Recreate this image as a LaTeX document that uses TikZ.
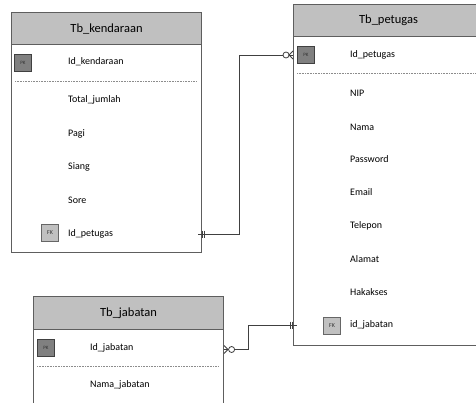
\documentclass[tikz,border=0pt]{standalone}
\usepackage{fontspec}
\setmainfont{Carlito}
\definecolor{edgegray}{HTML}{5E5E5E}
\definecolor{headgray}{HTML}{C0C0C0}
\definecolor{pkgray}{HTML}{808080}
\begin{document}
\begin{tikzpicture}[x=1pt,y=-1pt,
  tblbox/.style={draw=edgegray, line width=1.1pt, fill=white, minimum width=190pt, anchor=north west, inner sep=0pt},
  tblhead/.style={draw=edgegray, line width=1.1pt, fill=headgray, minimum width=190pt, minimum height=32pt, anchor=north west, inner sep=0pt, font=\fontsize{12.5}{14}\selectfont},
  field/.style={anchor=west, inner sep=0pt, font=\fontsize{10}{12}\selectfont},
  pkbox/.style={draw=black!75, line width=0.7pt, fill=pkgray, minimum size=17pt, inner sep=0pt, text=black!80, font=\fontsize{5}{6}\selectfont},
  fkbox/.style={draw=black!60, line width=0.7pt, fill=headgray, minimum size=17pt, inner sep=0pt, text=black!80, font=\fontsize{6}{7}\selectfont},
  sep/.style={draw=black!45, line width=0.6pt, dash pattern=on 0.8pt off 0.8pt},
  rel/.style={draw=black!75, line width=0.9pt},
  mark0/.style={draw=black!75, line width=0.8pt, fill=white},
]
\useasboundingbox (0,0) rectangle (476,402);
\clip (0,0) rectangle (476,402);
\fill[white] (0,0) rectangle (476,402);

% ---------- Tb_kendaraan ----------
\node[tblbox, minimum height=240pt] (K) at (11,12) {};
\node[tblhead] (Kh) at (11,12) {Tb\_kendaraan};
\node[pkbox] (kpk) at (23,63) {PK};
\node[field] (kid) at (68,62) {Id\_kendaraan};
\draw[sep] (15,81) -- (197,81);
\node[field] (ktot) at (68,100) {Total\_jumlah};
\node[field] (kpagi) at (68,134) {Pagi};
\node[field] (ksiang) at (68,167) {Siang};
\node[field] (ksore) at (68,200) {Sore};
\node[fkbox] (kfk) at (50,233) {FK};
\node[field] (kidp) at (68,234) {Id\_petugas};

% ---------- Tb_petugas ----------
\node[tblbox, minimum height=341pt] (P) at (293,4) {};
\node[tblhead] (Ph) at (293,4) {Tb\_petugas};
\node[pkbox] (ppk) at (306,54.5) {PK};
\node[field] (pidp) at (350,55) {Id\_petugas};
\draw[sep] (297,73) -- (480,73);
\node[field] (pnip) at (350,93) {NIP};
\node[field] (pnama) at (350,127) {Nama};
\node[field] (ppass) at (350,159) {Password};
\node[field] (pmail) at (350,192) {Email};
\node[field] (ptelp) at (350,226) {Telepon};
\node[field] (palmt) at (350,259) {Alamat};
\node[field] (phak) at (350,292) {Hakakses};
\node[fkbox] (pfk) at (332,325.5) {FK};
\node[field] (pidj) at (350,325) {id\_jabatan};

% ---------- Tb_jabatan ----------
\node[tblbox, minimum height=130pt] (J) at (33,296) {};
\node[tblhead, minimum height=33pt] (Jh) at (33,296) {Tb\_jabatan};
\node[pkbox] (jpk) at (46,347.5) {PK};
\node[field] (jidj) at (90,348) {Id\_jabatan};
\draw[sep] (37,366) -- (219,366);
\node[field] (jnama) at (90,385) {Nama\_jabatan};

% ---------- relation: Tb_kendaraan -> Tb_petugas ----------
\coordinate (ka) at ([xshift=-4pt]K.east |- kidp.west);
\coordinate (pa) at (P.west |- pidp.west);
\draw[rel] (ka) -- ++(41,0) |- (pa);
% one (double bar) at Tb_kendaraan
\draw[rel] ([shift={(4,-3.5)}]ka) -- ([shift={(4,3.5)}]ka);
\draw[rel] ([shift={(6,-3.5)}]ka) -- ([shift={(6,3.5)}]ka);
% zero-or-many at Tb_petugas
\draw[rel] ([shift={(-4,0)}]pa) -- ([shift={(0,-4)}]pa);
\draw[rel] ([shift={(-4,0)}]pa) -- ([shift={(0,4)}]pa);
\draw[mark0] ([shift={(-7,0)}]pa) circle (3);

% ---------- relation: Tb_jabatan -> Tb_petugas ----------
\coordinate (jb) at (J.east |- 0,349.5);
\coordinate (pb) at ([xshift=4pt]P.west |- pidj.west);
\draw[rel] (jb) -- ++(24,0) |- (pb);
% zero-or-many at Tb_jabatan
\draw[rel] ([shift={(4,0)}]jb) -- ([shift={(0,-4)}]jb);
\draw[rel] ([shift={(4,0)}]jb) -- ([shift={(0,4)}]jb);
\draw[mark0] ([shift={(7.5,0)}]jb) circle (3);
% one (double bar) at Tb_petugas
\draw[rel] ([shift={(-7,-3.5)}]pb) -- ([shift={(-7,3.5)}]pb);
\draw[rel] ([shift={(-5,-3.5)}]pb) -- ([shift={(-5,3.5)}]pb);
\end{tikzpicture}
\end{document}
